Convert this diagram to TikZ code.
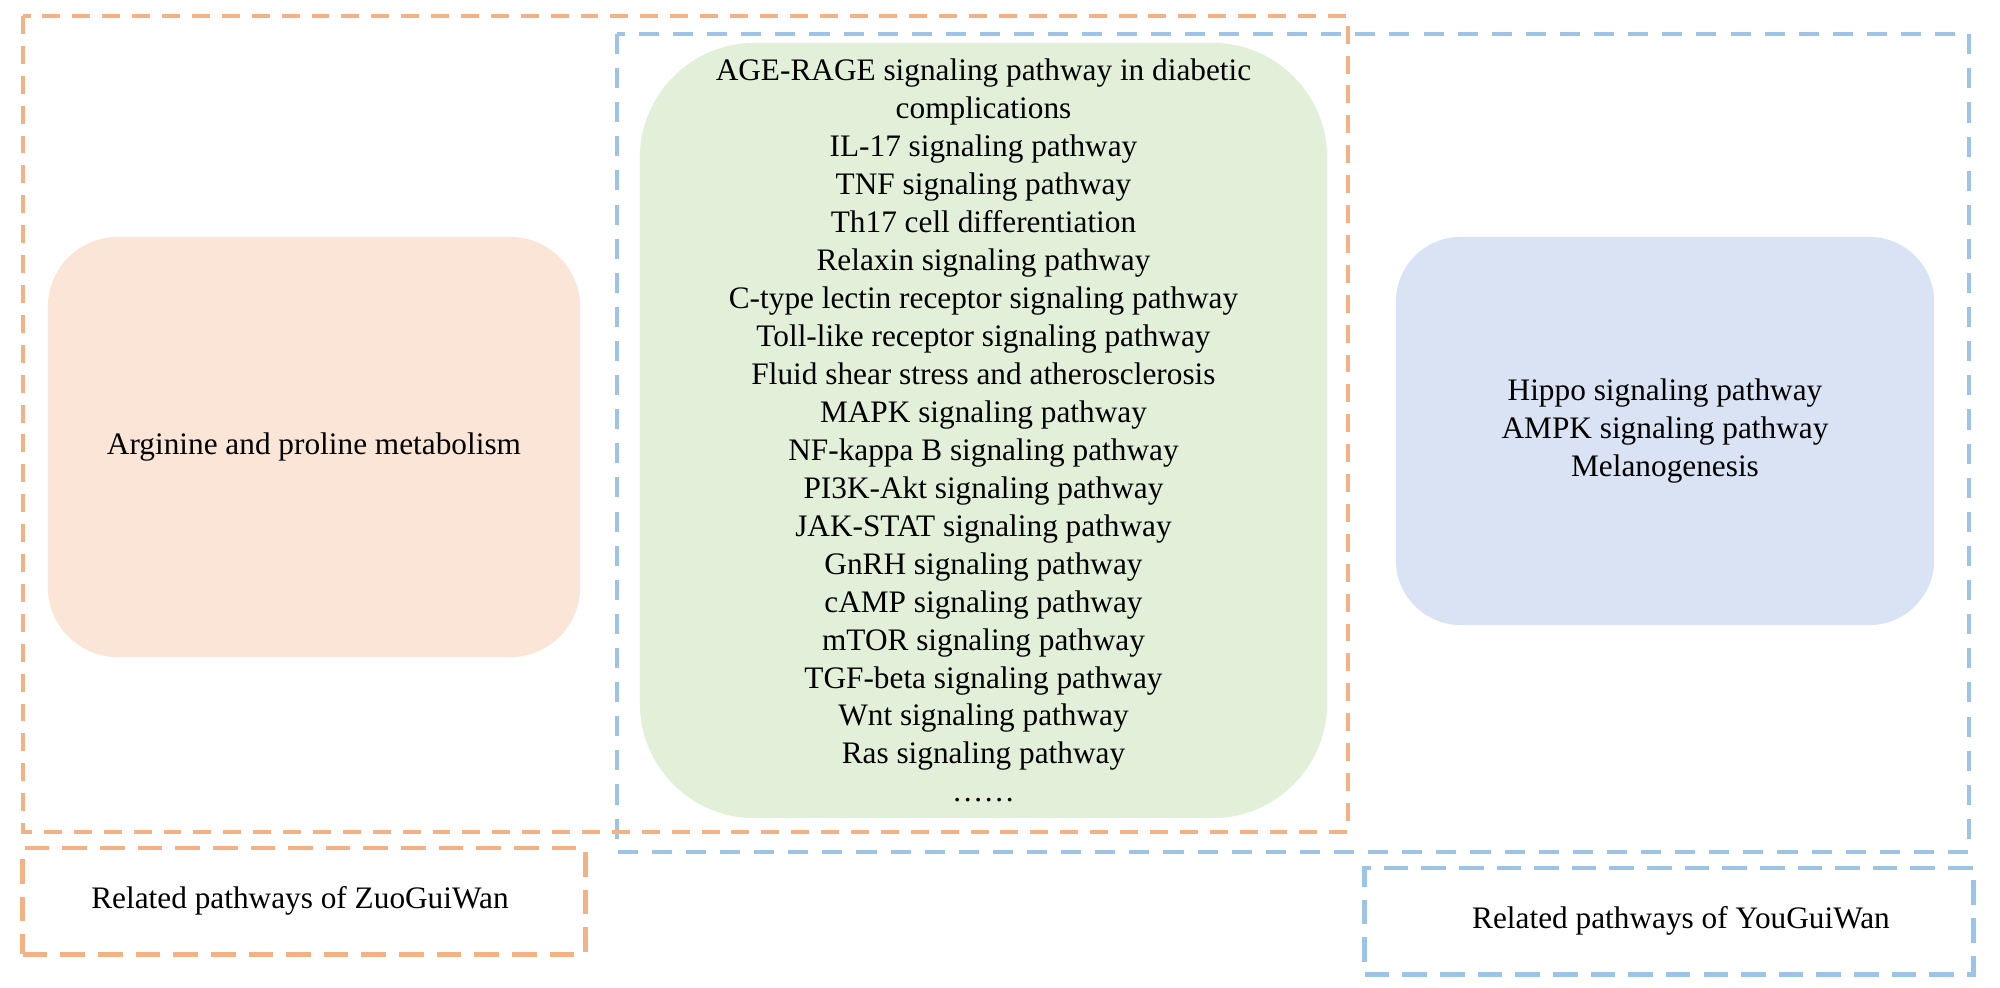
\documentclass[tikz,border=0pt]{standalone}
\usepackage{fontspec}
\setmainfont{Liberation Serif}
\usepackage{tikz}

\definecolor{zuoline}{HTML}{F4B183}
\definecolor{youline}{HTML}{9DC3E6}
\definecolor{zuofill}{HTML}{FBE5D6}
\definecolor{bothfill}{HTML}{E2F0D9}
\definecolor{youfill}{HTML}{DAE3F3}

\begin{document}
\begin{tikzpicture}[x=0.01cm, y=-0.01cm,
    every node/.style={font=\fontsize{8.9pt}{10.8pt}\selectfont, align=center, inner sep=0pt},
    zuoframe/.style={draw=zuoline, line width=1.1pt, dash pattern=on 5.1pt off 3.4pt},
    youframe/.style={draw=youline, line width=1.1pt, dash pattern=on 5.7pt off 4pt},
    zuotag/.style={draw=zuoline, line width=1.4pt, dash pattern=on 7pt off 3.7pt},
    youtag/.style={draw=youline, line width=1.4pt, dash pattern=on 7pt off 3.7pt}]
        \useasboundingbox (0, 0) rectangle (2000, 988);

        % filled groups
        \node[fill=zuofill, rounded corners=0.7cm, minimum width=5.32cm, minimum height=4.2cm] (zuo) at (314, 447) {Arginine and proline metabolism};
        \node[fill=bothfill, rounded corners=1.15cm, minimum width=6.87cm, minimum height=7.75cm] (both) at (983.5, 430.5) {AGE-RAGE signaling pathway in diabetic\\ complications\\ IL-17 signaling pathway\\ TNF signaling pathway\\ Th17 cell differentiation\\ Relaxin signaling pathway\\ C-type lectin receptor signaling pathway\\ Toll-like receptor signaling pathway\\ Fluid shear stress and atherosclerosis\\ MAPK signaling pathway\\ NF-kappa B signaling pathway\\ PI3K-Akt signaling pathway\\ JAK-STAT signaling pathway\\ GnRH signaling pathway\\ cAMP signaling pathway\\ mTOR signaling pathway\\ TGF-beta signaling pathway\\ Wnt signaling pathway\\ Ras signaling pathway\\ ……};
        \node[fill=youfill, rounded corners=0.65cm, minimum width=5.38cm, minimum height=3.88cm] (you) at (1665, 431) {Hippo signaling pathway\\ AMPK signaling pathway\\ Melanogenesis};

        % dashed frames
        \draw[youframe] (617, 34) rectangle (1969, 852);
        \draw[zuoframe] (23, 16) rectangle (1348, 832);

        % legends
        \node[zuotag, minimum width=5.62cm, minimum height=1.06cm] (zuolabel) at (304, 901) {Related pathways of ZuoGuiWan\hspace*{0.08cm}};
        \node[youtag, minimum width=6.08cm, minimum height=1.06cm] (youlabel) at (1669, 921) {\hspace*{0.24cm}Related pathways of YouGuiWan};
      \end{tikzpicture}
\end{document}
